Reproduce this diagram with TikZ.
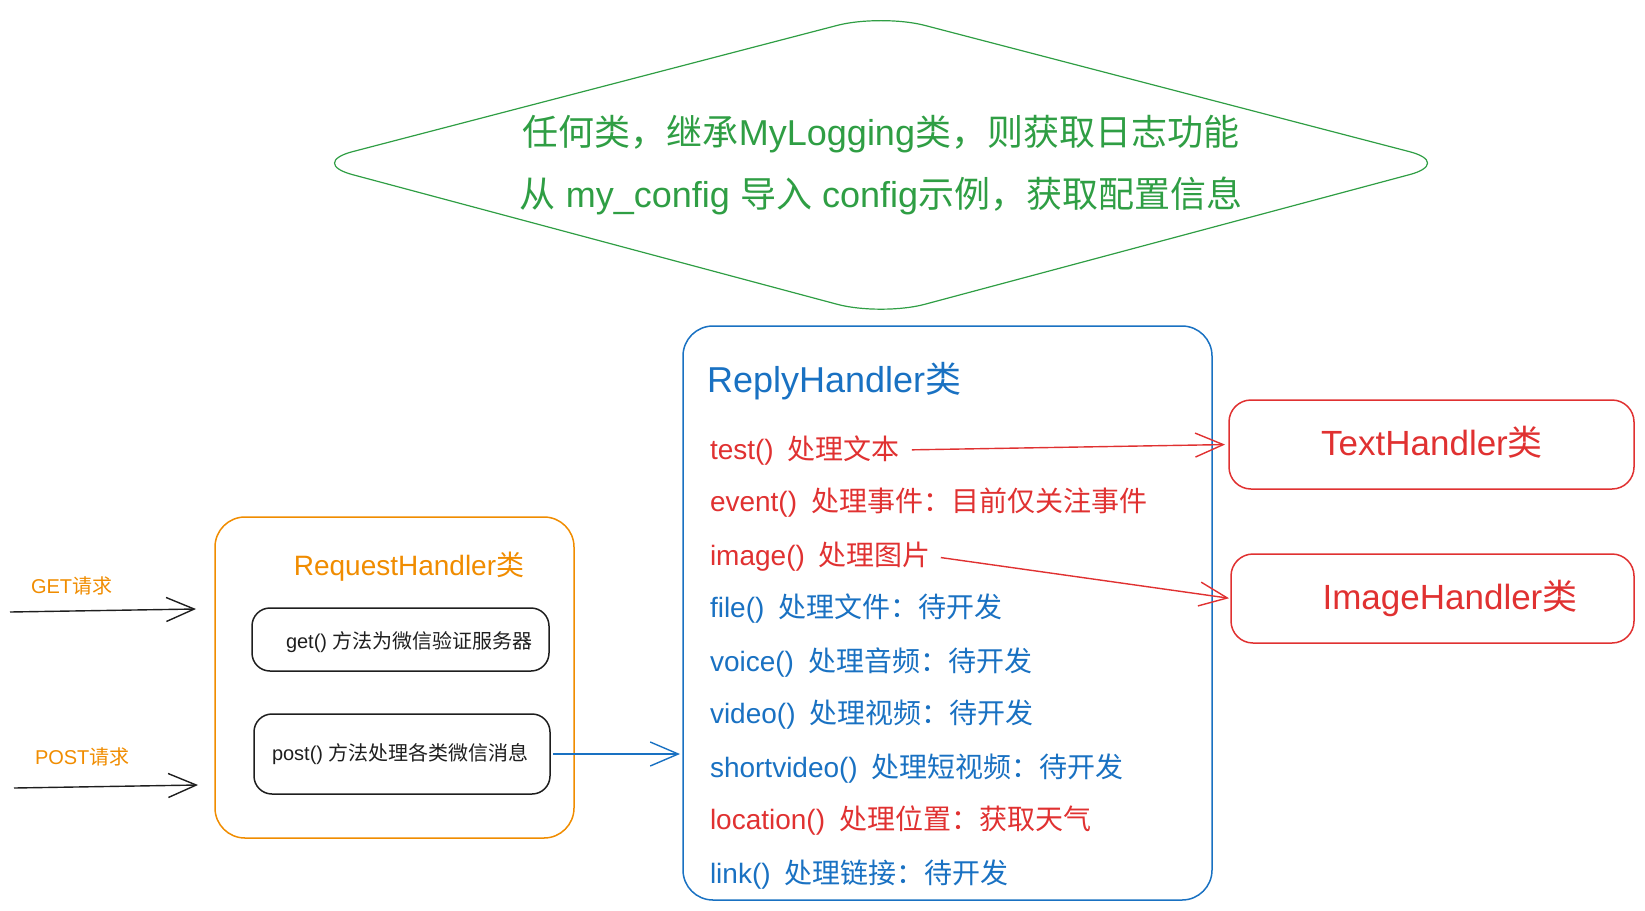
\documentclass[tikz,border=0pt]{standalone}
\usepackage{fontspec}
\setmainfont{Liberation Sans}
\newfontfamily\cjk{Noto Sans CJK SC}
\usepackage{xcolor}
\usetikzlibrary{arrows.meta,calc,positioning}
\definecolor{exred}{HTML}{E03131}
\definecolor{exblue}{HTML}{1971C2}
\definecolor{exgreen}{HTML}{2F9E44}
\definecolor{exorange}{HTML}{F08C00}
\definecolor{exblack}{HTML}{1E1E1E}

\begin{document}
\begin{tikzpicture}[x=1pt,y=-1pt]
	\tikzset{
		every node/.style={inner sep=0pt, outer sep=0pt},
		hbox/.style={draw, line width=1.5pt, rounded corners=#1},
		hbox/.default=20pt,
		cfgtext/.style={align=center, text=exgreen, font=\fontsize{36}{62}\selectfont},
		htitle/.style={anchor=base, font=\fontsize{35}{42}\selectfont},
		method/.style={anchor=base west, font=\fontsize{28}{34}\selectfont},
		note/.style={anchor=base west, font=\fontsize{20}{24}\selectfont},
		barb/.style={line width=1.4pt, -{Straight Barb[length=28pt,width=24pt]}}
	}
	\useasboundingbox (0,0) rectangle (1645,910);

	% config diamond
	\draw [exgreen, line width=1.2pt, rounded corners=45pt] (595,88.5) -- (881,14) -- (1453,163) -- (881,316) -- (309,163) -- cycle;
	\node [cfgtext] (cfg) at (881,165) {{\cjk 任何类，继承}MyLogging{\cjk 类，则获取日志功能}\\{\cjk 从} my\_config {\cjk 导入} config{\cjk 示例，获取配置信息}};

	% request side
	\node [note, exorange] (getlbl) at (31,593) {GET{\cjk 请求}};
	\node [note, exorange] (postlbl) at (35,764) {POST{\cjk 请求}};
	\coordinate (getin) at (10,612);
	\coordinate (getout) at (196,609);
	\coordinate (postin) at (14,788);
	\coordinate (postout) at (198,785);
	\draw [barb, exblack] (getin) -- (getout);
	\draw [barb, exblack] (postin) -- (postout);

	\node [hbox=30pt, draw=exorange, minimum width=359pt, minimum height=321pt] (req) at (394.5,677.5) {};
	\node [htitle, exorange, font=\fontsize{28}{34}\selectfont] (reqtitle) at (409,575) {RequestHandler{\cjk 类}};
	\node [hbox=18pt, draw=exblack, minimum width=297pt, minimum height=63pt] (getbox) at (400.5,639.5) {};
	\node [note, exblack] (gettxt) at (286,648) {get() {\cjk 方法为微信验证服务器}};
	\node [hbox=18pt, draw=exblack, minimum width=296pt, minimum height=80pt] (postbox) at (402,754) {};
	\node [note, exblack] (posttxt) at (272,760) {post() {\cjk 方法处理各类微信消息}};

	% reply handler
	\node [hbox=30pt, draw=exblue, minimum width=529pt, minimum height=574pt] (reply) at (947.5,613) {};
	\node [htitle, exblue, anchor=base west, font=\fontsize{36}{42}\selectfont] (replytitle) at (707,392) {ReplyHandler{\cjk 类}};
	\node [method, exred] (mtest) at (710,459) {test()\enspace{\cjk 处理文本}};
	\node [method, exred] (mevent) at (710,511) {event()\enspace{\cjk 处理事件：目前仅关注事件}};
	\node [method, exred] (mimage) at (710,565) {image()\enspace{\cjk 处理图片}};
	\node [method, exblue] (mfile) at (710,617) {file()\enspace{\cjk 处理文件：待开发}};
	\node [method, exblue] (mvoice) at (710,671) {voice()\enspace{\cjk 处理音频：待开发}};
	\node [method, exblue] (mvideo) at (710,723) {video()\enspace{\cjk 处理视频：待开发}};
	\node [method, exblue] (mshort) at (710,777) {shortvideo()\enspace{\cjk 处理短视频：待开发}};
	\node [method, exred] (mloc) at (710,829) {location()\enspace{\cjk 处理位置：获取天气}};
	\node [method, exblue] (mlink) at (710,883) {link()\enspace{\cjk 处理链接：待开发}};

	\draw [barb, exblue, shorten <=3pt, shorten >=3pt] (postbox.east) -- (postbox.east -| reply.west);

	% text / image handlers
	\node [hbox=22pt, draw=exred, minimum width=405pt, minimum height=89pt] (texth) at (1431.5,444.5) {};
	\node [htitle, exred] (texttitle) at (1432,455) {TextHandler{\cjk 类}};
	\node [hbox=22pt, draw=exred, minimum width=403pt, minimum height=89pt] (imageh) at (1432.5,598.5) {};
	\node [htitle, exred] (imagetitle) at (1450,609) {ImageHandler{\cjk 类}};

	\draw [barb, exred, shorten <=12pt, shorten >=4pt] (mtest.east) -- (texth.west);
	\draw [barb, exred, shorten <=10pt, shorten >=2pt] (mimage.east) -- (imageh.west);
\end{tikzpicture}
\end{document}
